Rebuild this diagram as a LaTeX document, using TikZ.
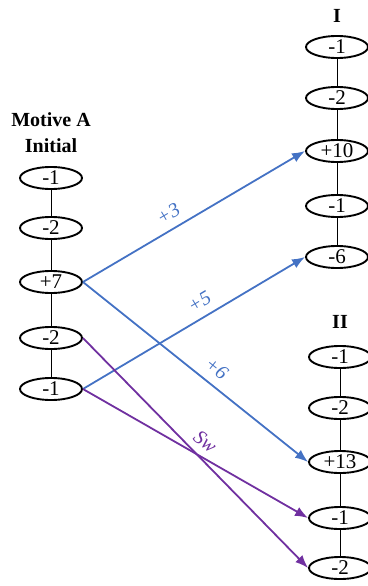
\documentclass[tikz,border=0pt]{standalone}
\usepackage{fontspec}
\setmainfont{Liberation Serif}
\usetikzlibrary{arrows.meta,positioning,shapes.geometric}
\definecolor{flowblue}{HTML}{4472C4}
\definecolor{swpurple}{HTML}{7030A0}
\tikzset{motif/.style={ellipse,draw=black,line width=1.9pt,minimum width=62pt,minimum height=22pt,inner sep=0pt,font=\fontsize{21}{21}\selectfont},coltitle/.style={font=\bfseries\fontsize{20}{26}\selectfont,align=center},link/.style={draw=black,line width=.7pt},move/.style={line width=1.8pt,-{Latex[length=13pt,width=10pt]}},movelabel/.style={font=\itshape\fontsize{20}{20}\selectfont,sloped,above,inner sep=8pt}}
\begin{document}
\begin{tikzpicture}[x=1pt,y=-1pt]
\useasboundingbox (0,0) rectangle (367,586);
\node[coltitle] (tA) at (51,133) {Motive A\\Initial};
\node[coltitle] (tI) at (337,16) {I};
\node[coltitle] (tII) at (340,322) {II};
\foreach \n/\y/\t in {1/178/-1,2/228/-2,3/282/+7,4/338/-2,5/389/-1}
  \node[motif] (a\n) at (51,\y) {\t};
\foreach \n/\y/\t in {1/47/-1,2/98/-2,3/151/+10,4/206/-1,5/257/-6}
  \node[motif] (i\n) at (337,\y) {\t};
\foreach \n/\y/\t in {1/357/-1,2/408/-2,3/462/+13,4/518/-1,5/568/-2}
  \node[motif] (ii\n) at (340,\y) {\t};
\foreach \c in {a,i,ii}
  \foreach \n [count=\m from 2] in {1,2,3,4}
    \draw[link] (\c\n) -- (\c\m);
% transitions
\draw[move,flowblue] (a3.east) -- node[movelabel,pos=.42] {+3} (i3.west);
\draw[move,flowblue] (a5.east) -- node[movelabel,pos=.56] {+5} (i5.west);
\draw[move,flowblue] (a3.east) -- node[movelabel,pos=.55] {+6} (ii3.west);
\draw[move,swpurple] (a4.east) -- (ii5.west);
\draw[move,swpurple] (a5.east) -- node[movelabel,pos=.5,rotate=-9,text=swpurple] {Sw} (ii4.west);
\end{tikzpicture}
\end{document}
